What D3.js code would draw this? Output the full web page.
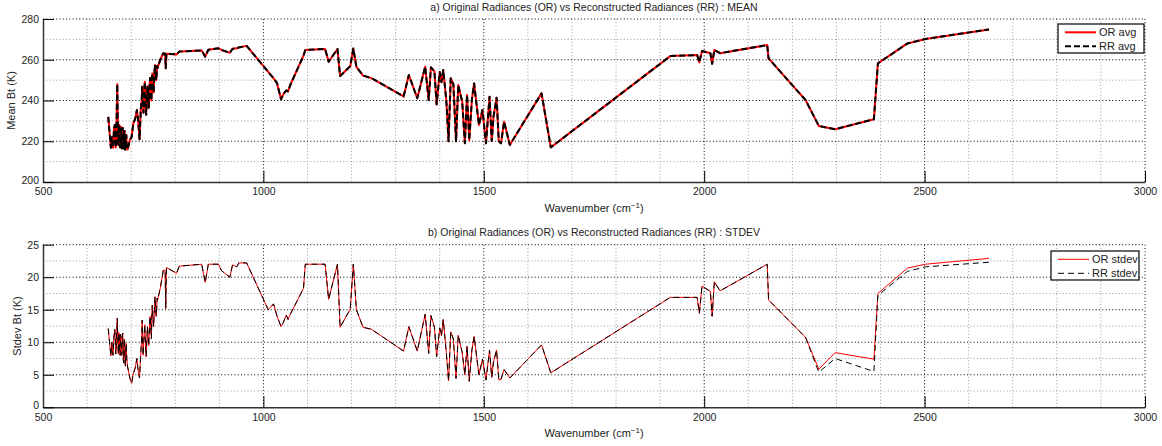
<!DOCTYPE html>
<html>
<head>
<meta charset="utf-8">
<script src="https://cdn.jsdelivr.net/npm/d3@7"></script>
<style>
  body { margin: 0; background: #fff; }
  svg { font-family: "Liberation Sans", Arial, Helvetica, sans-serif; }
</style>
</head>
<body>
<div id="chart"></div>
<script>
// wavenumbers (cm-1)
const wavenumber = [
  // 648-692
  648, 654, 656, 659, 661, 663, 665, 666, 668.5, 670,
  671, 672, 673, 674, 675, 676, 677, 678, 679, 680,
  681, 682, 683, 684, 685, 686, 687, 688, 689, 690, 692,
  // 697-719
  697, 701, 705, 709, 713, 716, 719,
  // 722-760
  722, 724, 725, 727, 728, 730, 731, 733, 734, 736,
  737, 739, 740, 742, 743, 745, 746, 747, 748, 750,
  751, 753, 754, 756, 757, 759, 760,
  // 766-2646
  766, 773, 777, 778.5, 780, 803, 809, 860, 868, 875,
  898, 905, 924, 930, 940, 944, 962, 1011, 1023, 1031,
  1040, 1045, 1052, 1056, 1061, 1091, 1095, 1140, 1148, 1168,
  1174, 1197, 1204, 1211, 1226, 1245, 1318, 1330, 1349, 1367,
  1375, 1380, 1388, 1393, 1400, 1404, 1408, 1415, 1420, 1425,
  1431, 1437, 1442, 1451, 1457, 1462, 1467, 1473, 1478, 1489,
  1497, 1505, 1513, 1518, 1522, 1529, 1534, 1539, 1546, 1559,
  1631, 1652, 1923, 1984, 1989, 1995, 2014, 2018, 2023, 2036,
  2143, 2146, 2230, 2260, 2297, 2385, 2394, 2461, 2502, 2646
]

// mean Bt (K)
const orAvg = [
  232, 216.8, 222, 216.8, 226, 228, 217, 220, 248, 224,
  218, 227.5, 228, 218, 217, 226, 227, 217.5, 216.5, 225,
  226.5, 216.5, 217, 224, 225, 216, 216, 222, 223, 217, 216,
  220.6, 222, 228.8, 231, 235.3, 230, 221,
  236, 240, 246.8, 238, 234, 245, 249.2, 237, 233, 244,
  247, 240, 236.5, 248, 251, 243, 240, 250, 253.3, 246,
  244, 254, 257.4, 251, 250, 257, 256,
  260, 263.2, 263, 255.8, 263, 262.6, 264, 264.6, 261.5, 264.9,
  265.6, 264.8, 263.4, 265.4, 265.6, 266, 266.8, 254, 250.9, 248.5,
  240.6, 243, 245, 244.5, 247.6, 262, 264.8, 265.3, 259, 265.3,
  252, 256.8, 265.5, 256.5, 252.2, 251, 242, 252.5, 241.1, 256.6,
  240.2, 256.3, 254.3, 238.1, 254, 249, 255, 240, 220, 250.9,
  248, 220, 247.6, 239.4, 219, 242.7, 220.5, 240.5, 248.4, 228,
  235.3, 219, 241.9, 220.1, 232, 241.4, 220, 219, 229.6, 218.2,
  243.5, 217, 261.8, 262.3, 258.7, 264.3, 263.2, 258, 264.8, 263.2,
  267.2, 260.7, 240.2, 227.5, 225.9, 230.8, 258.2, 268, 270.2, 274.9
]
const rrAvg = [
  232, 216.8, 222, 216.8, 226, 228, 217, 220, 248, 224,
  218, 227.5, 228, 218, 217, 226, 227, 217.5, 216.5, 225,
  226.5, 216.5, 217, 224, 225, 216, 216, 222, 223, 217, 216,
  220.6, 222, 228.8, 231, 235.3, 230, 221,
  236, 240, 246.8, 238, 234, 245, 249.2, 237, 233, 244,
  247, 240, 236.5, 248, 251, 243, 240, 250, 253.3, 246,
  244, 254, 257.4, 251, 250, 257, 256,
  260, 263.2, 263, 255.8, 263, 262.6, 264, 264.6, 261.5, 264.9,
  265.6, 264.8, 263.4, 265.4, 265.6, 266, 266.8, 254, 250.9, 248.5,
  240.6, 243, 245, 244.5, 247.6, 262, 264.8, 265.3, 259, 265.3,
  252, 256.8, 265.5, 256.5, 252.2, 251, 242, 252.5, 241.1, 256.6,
  240.2, 256.3, 254.3, 238.1, 254, 249, 255, 240, 220, 250.9,
  248, 220, 247.6, 239.4, 219, 242.7, 220.5, 240.5, 248.4, 228,
  235.3, 219, 241.9, 220.1, 232, 241.4, 220, 219, 229.6, 218.2,
  243.5, 217, 261.8, 262.3, 258.7, 264.3, 263.2, 258, 264.8, 263.2,
  267.2, 260.7, 240.2, 227.5, 225.9, 230.8, 258.2, 268, 270.2, 274.9
]

// stdev Bt (K)
const orStd = [
  12.1, 7.9, 10, 8.0, 11, 12.0, 8.2, 9.0, 13.7, 9.5,
  8.2, 11.5, 11.0, 8.4, 8.0, 11.2, 10.7, 8.0, 8.4, 11,
  11.4, 7.5, 6.8, 10, 10.5, 7, 6.3, 9, 9.8, 7.5, 6.2,
  4.5, 3.7, 5.2, 6.0, 7.5, 5.5, 4.5,
  8.5, 11, 13.4, 8, 9.2, 11.8, 12.7, 9, 7.8, 11,
  12.4, 10, 9.5, 13, 14, 11.5, 10.5, 14.5, 15.7, 13,
  12.4, 15.5, 17, 14.5, 14, 16.8, 16.5,
  18.3, 21.1, 21, 15.2, 21.5, 20.6, 21.7, 22, 19.2, 22,
  22, 21, 20, 21.9, 21.6, 22.2, 22.2, 15, 15.9, 14,
  12.4, 13, 14.2, 13.5, 14.3, 18.3, 22, 22, 16.6, 22,
  12.3, 15.1, 22, 15, 12.3, 12, 8.65, 12.4, 8.65, 14.3,
  8.3, 14.1, 12.3, 7.8, 12.2, 11, 13.5, 8.4, 4.05, 11.6,
  10.5, 4.45, 11.1, 8.4, 5, 9.4, 4, 8.8, 10.9, 5,
  7.4, 4.2, 8.8, 4.6, 7, 8.8, 4.2, 4.3, 5.8, 4.5,
  9.6, 5.3, 16.9, 16.9, 14.45, 18.65, 17.8, 14, 19.3, 17.9,
  22, 16.5, 10.75, 5.85, 8.4, 7.4, 17.5, 21.4, 22, 22.9
]
const rrStd = [
  12.1, 7.9, 10, 8.0, 11, 12.0, 8.2, 9.0, 13.7, 9.5,
  8.2, 11.5, 11.0, 8.4, 8.0, 11.2, 10.7, 8.0, 8.4, 11,
  11.4, 7.5, 6.8, 10, 10.5, 7, 6.3, 9, 9.8, 7.5, 6.2,
  4.5, 3.7, 5.2, 6.0, 7.5, 5.5, 4.5,
  8.5, 11, 13.4, 8, 9.2, 11.8, 12.7, 9, 7.8, 11,
  12.4, 10, 9.5, 13, 14, 11.5, 10.5, 14.5, 15.7, 13,
  12.4, 15.5, 17, 14.5, 14, 16.8, 16.5,
  18.3, 21.1, 21, 15.2, 21.5, 20.6, 21.7, 22, 19.2, 22,
  22, 21, 20, 21.9, 21.6, 22.2, 22.2, 15, 15.9, 14,
  12.4, 13, 14.2, 13.5, 14.3, 18.3, 22, 22, 16.6, 22,
  12.3, 15.1, 22, 15, 12.3, 12, 8.65, 12.4, 8.65, 14.3,
  8.3, 14.1, 12.3, 7.8, 12.2, 11, 13.5, 8.4, 4.05, 11.6,
  10.5, 4.45, 11.1, 8.4, 5, 9.4, 4, 8.8, 10.9, 5,
  7.4, 4.2, 8.8, 4.6, 7, 8.8, 4.2, 4.3, 5.8, 4.5,
  9.6, 5.3, 16.9, 16.9, 14.45, 18.65, 17.8, 14, 19.3, 17.9,
  22, 16.5, 10.75, 5.4, 7.5, 5.5, 17.2, 20.9, 21.6, 22.3
]

// tick labels
const xTicks = [500, 1000, 1500, 2000, 2500, 3000]
const meanTicks = [200, 220, 240, 260, 280]
const stdTicks = [0, 5, 10, 15, 20, 25]

let svg = d3.select("#chart")
  .append("svg")
  .attr("width", 1162)
  .attr("height", 446)

let x = d3.scaleLinear().domain([500, 3000]).range([43, 1145])
let xMinor = d3.range(500, 3001, 100)

function panel(opt) {
  let y = d3.scaleLinear().domain(opt.domain).range([opt.bottom, opt.top])
  let g = svg.append("g")

  // grid (minor grey, major black, both dotted)
  let minorY = d3.range(opt.domain[0], opt.domain[1] + 0.01, opt.minorStep)
  g.selectAll(".vminor").data(xMinor.filter(d => !xTicks.includes(d)))
    .enter().append("line")
    .attr("x1", d => x(d)).attr("x2", d => x(d))
    .attr("y1", opt.top).attr("y2", opt.bottom)
    .attr("stroke", "#9a9a9a").attr("stroke-dasharray", "1,2.3")
  g.selectAll(".hminor").data(minorY.filter(d => !opt.ticks.includes(d)))
    .enter().append("line")
    .attr("x1", x(500)).attr("x2", x(3000))
    .attr("y1", d => y(d)).attr("y2", d => y(d))
    .attr("stroke", "#9a9a9a").attr("stroke-dasharray", "1,2.3")
  g.selectAll(".vmajor").data(xTicks.slice(1))
    .enter().append("line")
    .attr("x1", d => x(d)).attr("x2", d => x(d))
    .attr("y1", opt.top).attr("y2", opt.bottom)
    .attr("stroke", "#000").attr("stroke-dasharray", "1,2.3")
  g.selectAll(".hmajor").data(opt.ticks.slice(1))
    .enter().append("line")
    .attr("x1", x(500)).attr("x2", x(3000))
    .attr("y1", d => y(d)).attr("y2", d => y(d))
    .attr("stroke", "#000").attr("stroke-dasharray", "1,2.3")

  // series
  opt.series.forEach(s => {
    let line = d3.line().x((d, i) => x(wavenumber[i])).y(d => y(d))
    g.append("path")
      .datum(s.values)
      .attr("d", line)
      .attr("fill", "none")
      .attr("stroke", s.color)
      .attr("stroke-width", s.width)
      .attr("stroke-dasharray", s.dash)
      .attr("stroke-linejoin", "round")
  })

  // axes
  let gx = g.append("g")
    .attr("transform", `translate(0,${opt.bottom})`)
    .call(d3.axisBottom(x).tickValues(xTicks).tickFormat(d3.format("d"))
      .tickSizeInner(-11).tickSizeOuter(0).tickPadding(6))
  let gy = g.append("g")
    .attr("transform", `translate(${x(500)},0)`)
    .call(d3.axisLeft(y).tickValues(opt.ticks).tickFormat(d3.format("d"))
      .tickSizeInner(-11).tickSizeOuter(0).tickPadding(4))
  ;[gx, gy].forEach(a => {
    a.select(".domain").attr("stroke", "#333").attr("stroke-width", 1.5)
    a.selectAll(".tick line").attr("stroke", "#000")
    a.selectAll(".tick text").attr("font-size", "10.5px").attr("fill", "#222")
      .attr("font-family", "Liberation Sans, Arial, sans-serif")
  })
  // nudge the lowest y label up a little so it clears the "500" below it
  gy.selectAll(".tick text").filter(d => d === opt.domain[0]).attr("dy", "0.1em")

  // title
  svg.append("text")
    .attr("x", (x(500) + x(3000)) / 2)
    .attr("y", opt.top - 8.5)
    .attr("text-anchor", "middle")
    .attr("font-size", "10.5px")
    .attr("fill", "#222")
    .text(opt.title)

  // x label
  let xl = svg.append("text")
    .attr("x", (x(500) + x(3000)) / 2)
    .attr("y", opt.bottom + 30)
    .attr("text-anchor", "middle")
    .attr("font-size", "11px")
    .attr("fill", "#222")
  xl.append("tspan").text("Wavenumber (cm")
  xl.append("tspan").attr("font-size", "8px").attr("dy", -4).text("\u22121")
  xl.append("tspan").attr("dy", 4).text(")")

  // y label
  svg.append("text")
    .attr("transform", `translate(${opt.ylabelX},${(opt.top + opt.bottom) / 2}) rotate(-90)`)
    .attr("text-anchor", "middle")
    .attr("font-size", "11px")
    .attr("fill", "#222")
    .text(opt.ylabel)

  // legend
  let lg = svg.append("g")
  lg.append("rect")
    .attr("x", opt.legend.x).attr("y", opt.legend.y)
    .attr("width", opt.legend.w).attr("height", 29)
    .attr("fill", "#fff").attr("stroke", "#000").attr("stroke-width", 1.2)
  opt.series.forEach((s, i) => {
    let ly = opt.legend.y + 8.3 + i * 14
    lg.append("line")
      .attr("x1", opt.legend.x + 7).attr("x2", opt.legend.x + 38)
      .attr("y1", ly).attr("y2", ly)
      .attr("stroke", s.color).attr("stroke-width", s.width)
      .attr("stroke-dasharray", s.dash)
    lg.append("text")
      .attr("x", opt.legend.x + 41).attr("y", ly + 4)
      .attr("font-size", "11px").attr("fill", "#222")
      .text(s.name)
  })
}

panel({
  domain: [200, 280], top: 19, bottom: 182, ticks: meanTicks, minorStep: 10,
  title: "a) Original Radiances (OR) vs Reconstructed Radiances (RR) : MEAN",
  ylabel: "Mean Bt (K)", ylabelX: 15,
  legend: { x: 1058, y: 24, w: 86 },
  series: [
    { name: "OR avg", values: orAvg, color: "#ff0000", width: 2, dash: null },
    { name: "RR avg", values: rrAvg, color: "#000", width: 2, dash: "6,3" }
  ]
})

panel({
  domain: [0, 25], top: 244.7, bottom: 407.3, ticks: stdTicks, minorStep: 2.5,
  title: "b) Original Radiances (OR) vs Reconstructed Radiances (RR) : STDEV",
  ylabel: "Stdev Bt (K)", ylabelX: 21,
  legend: { x: 1051, y: 251, w: 88 },
  series: [
    { name: "OR stdev", values: orStd, color: "#ff0000", width: 1, dash: null },
    { name: "RR stdev", values: rrStd, color: "#000", width: 1, dash: "6,4" }
  ]
})
</script>
</body>
</html>
